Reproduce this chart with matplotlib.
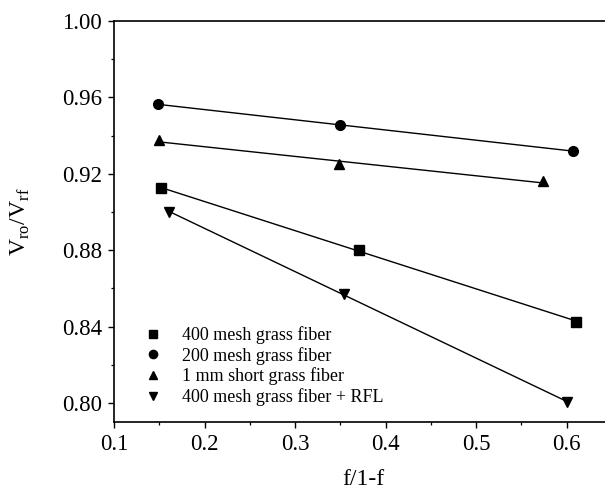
import numpy as np
import matplotlib
matplotlib.use("Agg")
import matplotlib.pyplot as plt
from matplotlib.ticker import MultipleLocator

plt.rcParams['font.family'] = ['Liberation Serif', 'DejaVu Serif']
plt.rcParams['mathtext.fontset'] = 'custom'
plt.rcParams['mathtext.rm'] = 'Liberation Serif'

# data
labels = ["400 mesh grass fiber", "200 mesh grass fiber",
          "1 mm short grass fiber", "400 mesh grass fiber + RFL"]
x_400 = [0.152, 0.371, 0.611]
y_400 = [0.9123, 0.8803, 0.8424]
x_200 = [0.149, 0.350, 0.607]
y_200 = [0.9565, 0.9453, 0.9320]
x_1mm = [0.150, 0.349, 0.574]
y_1mm = [0.9376, 0.9249, 0.9160]
x_rfl = [0.161, 0.354, 0.601]
y_rfl = [0.9001, 0.8568, 0.8005]

series = [(x_400, y_400, 's', 6.5), (x_200, y_200, 'o', 7),
          (x_1mm, y_1mm, '^', 7.5), (x_rfl, y_rfl, 'v', 7.5)]

fig = plt.figure(figsize=(6.05, 4.92), dpi=100)
ax = fig.add_axes([114/605, 70/492, 497.75/605, 401/492])

for (xs, ys, m, ms), lab in zip(series, labels):
    xs = np.array(xs); ys = np.array(ys)
    # straight fit line through each series
    k, b = np.polyfit(xs, ys, 1)
    xx = np.array([xs.min(), xs.max()])
    ax.plot(xx, k*xx + b, color='black', lw=1.0, zorder=2)
    ax.plot(xs, ys, ls='none', marker=m, ms=ms, color='black', zorder=3)
    ax.plot([], [], ls='none', marker=m, ms=ms*0.85, color='black', label=lab)

ax.set_xlim(0.1, 0.65)
ax.set_ylim(0.79, 1.00)
ax.xaxis.set_minor_locator(MultipleLocator(0.05))
ax.yaxis.set_minor_locator(MultipleLocator(0.02))
ax.set_yticks([0.80, 0.84, 0.88, 0.92, 0.96, 1.00])
ax.set_yticklabels(["0.80", "0.84", "0.88", "0.92", "0.96", "1.00"])
ax.set_xticks([0.1, 0.2, 0.3, 0.4, 0.5, 0.6])
ax.set_xticklabels(["0.1", "0.2", "0.3", "0.4", "0.5", "0.6"])

ax.tick_params(which='major', direction='out', length=4.5, width=1.0,
               labelsize=16.5, pad=4, top=False, right=False)
ax.tick_params(which='minor', direction='out', length=2.5, width=0.9,
               top=False, right=False)
for s in ax.spines.values():
    s.set_linewidth(1.2)
ax.spines['right'].set_visible(False)

ax.set_xlabel("f/1-f", fontsize=17, labelpad=10)
ax.set_ylabel(r"V$_{\rm ro}$/V$_{\rm rf}$", fontsize=17, labelpad=22)

ax.legend(loc='lower left', bbox_to_anchor=(0.045, 0.022), frameon=False,
          fontsize=13, handlelength=1.0, handletextpad=1.1,
          labelspacing=0.15, borderaxespad=0)

fig.savefig("out.png", dpi=100)
